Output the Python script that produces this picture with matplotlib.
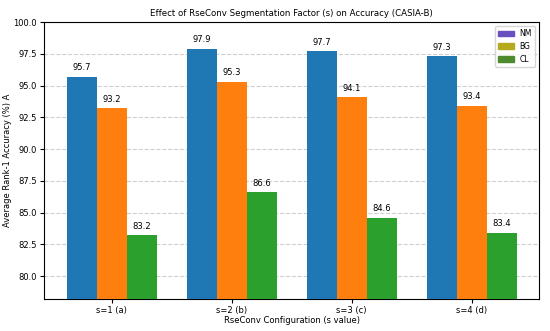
import matplotlib.pyplot as plt
import numpy as np

configs = ["s=1 (a)", "s=2 (b)", "s=3 (c)", "s=4 (d)"]
nm = [95.7, 97.9, 97.7, 97.3]
bg = [93.2, 95.3, 94.1, 93.4]
cl = [83.2, 86.6, 84.6, 83.4]
series = ["NM", "BG", "CL"]

bar_colors = ["#1f77b4", "#ff7f0e", "#2ca02c"]
legend_colors = ["#6a4fc0", "#b5aa1e", "#4f8a2e"]

fig, ax = plt.subplots(figsize=(5.5, 3.31), dpi=100)
x = np.arange(len(configs))
w = 0.25
for i, (vals, c) in enumerate(zip([nm, bg, cl], bar_colors)):
    bars = ax.bar(x + (i - 1) * w, vals, w, color=c, zorder=3)
    for b, v in zip(bars, vals):
        ax.text(b.get_x() + b.get_width() / 2, v + 0.35, f"{v:.1f}",
                ha="center", va="bottom", fontsize=6)

ax.set_ylim(78.2, 100)
ax.set_xticks(x)
ax.set_xticklabels(configs, fontsize=6)
ax.tick_params(axis="both", labelsize=6, length=3, pad=2)
ax.set_xlabel("RseConv Configuration (s value)", fontsize=6, labelpad=1)
ax.set_ylabel("Average Rank-1 Accuracy (%) A", fontsize=6, labelpad=1)
ax.set_title("Effect of RseConv Segmentation Factor (s) on Accuracy (CASIA-B)", fontsize=6.2, pad=4)
ax.grid(axis="y", linestyle="--", alpha=0.6, zorder=0)

handles = [plt.Rectangle((0, 0), 1, 1, color=c) for c in legend_colors]
ax.legend(handles, series, loc="upper right", fontsize=5.5)

fig.subplots_adjust(left=0.08, right=0.98, top=0.9335, bottom=0.0967)
fig.savefig("out.png")
